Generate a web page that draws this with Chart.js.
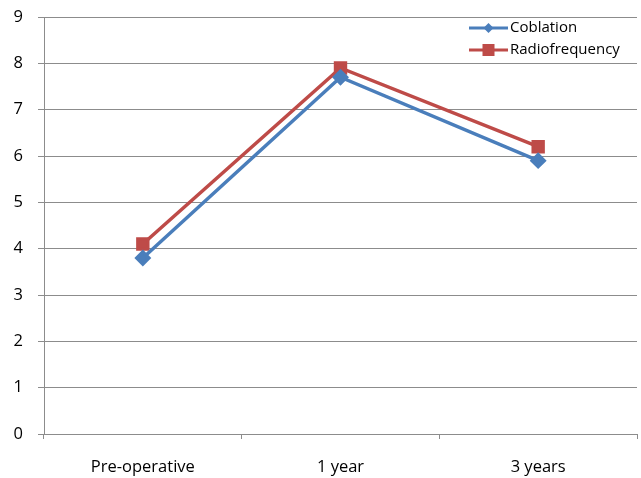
<!DOCTYPE html>
<html>
<head>
<meta charset="utf-8">
<script src="https://cdn.jsdelivr.net/npm/chart.js@4/dist/chart.umd.min.js"></script>
<style>
  html, body { margin: 0; padding: 0; background: #fff; }
  #wrap { width: 641px; height: 478px; position: relative; }
</style>
</head>
<body>
<div id="wrap"><canvas id="c" width="641" height="478"></canvas></div>
<script>
// Follow-up time points and scores per technique
const categories = ['Pre-operative', '1 year', '3 years'];
const coblation = [3.8, 7.7, 5.9];
const radiofrequency = [4.1, 7.9, 6.2];
const yTicks = [0, 1, 2, 3, 4, 5, 6, 7, 8, 9];

const FONT = '"Open Sans", Lato, sans-serif';
const BLUE = '#4A7EBB';
const RED = '#BE4B48';
const GRID = '#8c8c8c';

// Legend drawn in the upper right, Excel style: line segment with marker, then label
const lineLegend = {
  id: 'lineLegend',
  afterDraw(chart) {
    const ctx = chart.ctx;
    const x0 = 469, x1 = 508, tx = 510;
    const rows = [28, 50];
    chart.data.datasets.forEach((ds, i) => {
      const y = rows[i];
      ctx.save();
      ctx.strokeStyle = ds.borderColor;
      ctx.lineWidth = 3;
      ctx.beginPath();
      ctx.moveTo(x0, y);
      ctx.lineTo(x1, y);
      ctx.stroke();
      ctx.fillStyle = ds.pointBackgroundColor;
      const cx = (x0 + x1) / 2;
      if (ds.pointStyle === 'rectRot') {
        const r = 5;
        ctx.beginPath();
        ctx.moveTo(cx, y - r);
        ctx.lineTo(cx + r, y);
        ctx.lineTo(cx, y + r);
        ctx.lineTo(cx - r, y);
        ctx.closePath();
        ctx.fill();
      } else {
        ctx.fillRect(cx - 6, y - 6, 12, 12);
      }
      ctx.fillStyle = '#000';
      ctx.font = '15px ' + FONT;
      ctx.textBaseline = 'middle';
      ctx.textAlign = 'left';
      ctx.fillText(ds.label, tx, y);
      ctx.restore();
    });
  }
};

new Chart(document.getElementById('c'), {
  type: 'line',
  data: {
    labels: categories,
    datasets: [
      {
        label: 'Coblation',
        data: coblation,
        borderColor: BLUE,
        backgroundColor: BLUE,
        pointBackgroundColor: BLUE,
        pointBorderColor: BLUE,
        pointStyle: 'rectRot',
        pointRadius: 6,
        borderWidth: 3.5,
        tension: 0
      },
      {
        label: 'Radiofrequency',
        data: radiofrequency,
        borderColor: RED,
        backgroundColor: RED,
        pointBackgroundColor: RED,
        pointBorderColor: RED,
        pointStyle: 'rect',
        pointRadius: 7,
        borderWidth: 3.5,
        tension: 0
      }
    ]
  },
  options: {
    responsive: false,
    animation: false,
    layout: { autoPadding: false, padding: { top: 17, right: 4, left: 0, bottom: 0 } },
    plugins: { legend: { display: false }, tooltip: { enabled: false } },
    scales: {
      x: {
        offset: true,
        grid: {
          offset: true,
          drawOnChartArea: false,
          drawTicks: true,
          tickLength: 5,
          color: GRID
        },
        border: { color: GRID, width: 1 },
        ticks: { color: '#000', font: { family: FONT, size: 16.5 }, padding: 18, maxRotation: 0 },
        afterFit(s) { s.height = 44; s.paddingLeft = 0; s.paddingRight = 0; }
      },
      y: {
        min: 0,
        max: 9,
        afterBuildTicks(s) { s.ticks = yTicks.map(v => ({ value: v })); },
        grid: { color: GRID, tickLength: 6, drawTicks: true },
        border: { color: GRID, width: 1 },
        ticks: { color: '#000', font: { family: FONT, size: 16.5 }, padding: 15 },
        afterFit(s) { s.width = 44; s.paddingTop = 0; s.paddingBottom = 0; }
      }
    }
  },
  plugins: [lineLegend]
});
</script>
</body>
</html>
